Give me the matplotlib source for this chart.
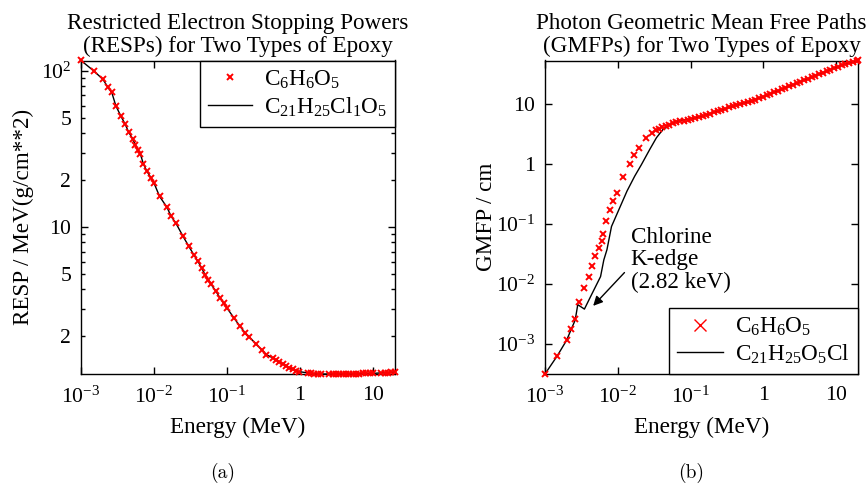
import matplotlib
matplotlib.use("Agg")
import matplotlib.pyplot as plt
from matplotlib.ticker import FixedLocator

# ---- panel (a): restricted electron stopping powers ----
resp_energy = [1.0e-3, 1.51e-3, 2.0e-3, 2.33e-3, 2.64e-3, 3.0e-3, 3.52e-3, 4.03e-3,
               4.48e-3, 5.08e-3, 5.53e-3, 6.0e-3, 6.53e-3, 7.13e-3, 8.0e-3, 9.08e-3,
               1.0e-2, 1.19e-2, 1.51e-2, 1.71e-2, 2.0e-2, 2.5e-2, 3.0e-2, 3.5e-2,
               4.0e-2, 4.5e-2, 5.0e-2, 5.5e-2, 6.07e-2, 7.0e-2, 8.0e-2, 9.0e-2,
               0.1, 0.125, 0.15, 0.177, 0.203, 0.253, 0.3, 0.347,
               0.42, 0.466, 0.518, 0.577, 0.64, 0.71, 0.79, 0.88, 0.975,
               1.27, 1.41, 1.57, 1.75, 1.94,
               2.52, 2.81, 3.12, 3.46, 3.85, 4.28, 4.75, 5.29, 5.87, 6.52, 7.26,
               8.06, 8.95, 9.97, 13.0, 14.4, 16.0, 17.8, 19.8]
resp_c6 = [117, 100, 88.5, 79, 73, 60, 51.5, 45.7,
           40.8, 37, 33.9, 31.2, 29.3, 25.6, 22.8, 20.8,
           19.2, 15.8, 13.4, 11.8, 10.6, 8.75, 7.55, 6.68,
           6.05, 5.48, 4.97, 4.62, 4.31, 3.91, 3.54, 3.27,
           3.04, 2.62, 2.33, 2.11, 1.98, 1.78, 1.64, 1.53,
           1.46, 1.42, 1.38, 1.34, 1.3, 1.26, 1.23, 1.21, 1.19,
           1.17, 1.16, 1.155, 1.15, 1.15,
           1.15, 1.15, 1.15, 1.15, 1.15, 1.15, 1.15, 1.15, 1.15, 1.155, 1.16,
           1.16, 1.16, 1.16, 1.17, 1.17, 1.175, 1.18, 1.185]
# the chlorinated epoxy overlaps the marker series everywhere
resp_c21 = [117, 100, 88.5, 79, 73, 60, 51.5, 45.7,
            40.8, 37, 33.9, 31.2, 29.3, 25.6, 22.8, 20.8,
            19.2, 15.8, 13.4, 11.8, 10.6, 8.75, 7.55, 6.68,
            6.05, 5.48, 4.97, 4.62, 4.31, 3.91, 3.54, 3.27,
            3.04, 2.62, 2.33, 2.11, 1.98, 1.78, 1.64, 1.53,
            1.46, 1.42, 1.38, 1.34, 1.3, 1.26, 1.23, 1.21, 1.19,
            1.17, 1.16, 1.155, 1.15, 1.15,
            1.15, 1.15, 1.15, 1.15, 1.15, 1.15, 1.15, 1.15, 1.15, 1.155, 1.16,
            1.16, 1.16, 1.16, 1.17, 1.17, 1.175, 1.18, 1.185]

# ---- panel (b): photon geometric mean free paths ----
gmfp_pts_energy = [1.0e-3, 1.47e-3, 1.98e-3, 2.27e-3, 2.6e-3, 2.95e-3, 3.39e-3, 3.97e-3,
                   4.4e-3, 4.84e-3, 5.45e-3, 5.98e-3, 6.3e-3, 6.85e-3, 7.76e-3, 8.73e-3,
                   9.8e-3, 1.18e-2, 1.46e-2, 1.67e-2, 1.94e-2, 2.42e-2, 2.92e-2, 3.32e-2,
                   3.68e-2, 4.09e-2, 4.55e-2,
                   0.05, 0.057, 0.064, 0.072, 0.081, 0.091, 0.103, 0.116, 0.13, 0.147,
                   0.165, 0.186, 0.21, 0.236, 0.266, 0.3, 0.337, 0.38, 0.428, 0.482,
                   0.543, 0.611, 0.688, 0.775, 0.873, 0.983, 1.11, 1.25, 1.4, 1.58,
                   1.78, 2.0, 2.26, 2.54, 2.86, 3.22, 3.63, 4.09, 4.6, 5.18,
                   5.84, 6.57, 7.4, 8.34, 9.39, 10.6, 11.9, 13.4, 15.1, 17.0, 19.2, 20.0]
gmfp_c6 = [3.16e-4, 6.3e-4, 1.17e-3, 1.76e-3, 2.58e-3, 5.0e-3, 8.5e-3, 1.32e-2,
           2.0e-2, 2.85e-2, 3.94e-2, 5.07e-2, 6.8e-2, 0.109, 0.167, 0.235,
           0.325, 0.6, 0.99, 1.41, 1.85, 2.64, 3.25, 3.59,
           3.83, 4.09, 4.3,
           4.45, 4.7, 4.9, 5.05, 5.2, 5.35, 5.55, 5.75, 5.95, 6.2,
           6.5, 6.8, 7.15, 7.5, 7.85, 8.2, 8.6, 9.0, 9.4, 9.75,
           10.2, 10.6, 11.1, 11.6, 12.3, 13.0, 13.8, 14.6, 15.4, 16.3,
           17.2, 18.2, 19.3, 20.5, 21.7, 23.0, 24.4, 25.9, 27.4, 29.0,
           30.7, 32.6, 34.6, 36.7, 39.0, 41.3, 43.4, 45.5, 47.6, 49.6, 51.5, 52.0]

gmfp_line_energy = [1.0e-3, 1.47e-3, 1.98e-3, 2.27e-3, 2.6e-3, 2.82e-3, 3.48e-3, 4.22e-3,
                    5.8e-3, 6.43e-3, 7.1e-3, 8.2e-3, 1.06e-2, 1.34e-2, 1.71e-2, 2.11e-2,
                    2.74e-2, 3.4e-2, 4.17e-2, 5.7e-2, 7.0e-2, 0.103, 0.147, 0.21,
                    0.3, 0.482, 0.688, 0.983, 1.4, 2.0, 2.86, 4.09, 5.84, 8.34,
                    11.9, 15.1, 20.0]
gmfp_c21 = [3.16e-4, 6.3e-4, 1.15e-3, 1.7e-3, 2.5e-3, 4.5e-3, 3.8e-3, 6.1e-3,
            1.32e-2, 2.5e-2, 3.7e-2, 9.0e-2, 0.183, 0.35, 0.62, 0.96,
            1.71, 2.7, 3.69, 4.76, 5.2, 5.55, 6.2, 7.15,
            8.2, 9.75, 11.1, 13.0, 15.4, 18.2, 21.7, 25.9, 30.7, 36.7,
            43.4, 47.6, 52.0]

plt.rcParams['font.family'] = ['Liberation Serif', 'DejaVu Serif']
plt.rcParams['mathtext.fontset'] = 'custom'
plt.rcParams['mathtext.rm'] = 'Liberation Serif'
plt.rcParams['mathtext.it'] = 'Liberation Serif:italic'
plt.rcParams['mathtext.bf'] = 'Liberation Serif:bold'

FS = 16.7
TFS = 15.6
fig = plt.figure(figsize=(8.68, 4.87), dpi=100)
ax1 = fig.add_axes([81 / 868, 1 - 374 / 487, 314 / 868, 313.5 / 487])
ax2 = fig.add_axes([545 / 868, 1 - 374 / 487, 313 / 868, 313.5 / 487])

xticks = [1e-3, 1e-2, 1e-1, 1, 10]
xlabels = [r'$\mathregular{10^{-3}}$', r'$\mathregular{10^{-2}}$',
           r'$\mathregular{10^{-1}}$', '1', '10']

# (a)
ax1.plot(resp_energy, resp_c21, color='black', lw=1.0, zorder=2,
         label=r'C$_{21}$H$_{25}$Cl$_1$O$_5$')
ax1.plot(resp_energy, resp_c6, ls='none', marker='x', ms=3.8, mew=1.4,
         color='red', zorder=3, clip_on=False, label=r'C$_6$H$_6$O$_5$')
ax1.set_xscale('log')
ax1.set_yscale('log')
ax1.set_xlim(1e-3, 20)
ax1.set_ylim(1.15, 117)
ax1.yaxis.set_major_locator(FixedLocator([10, 100]))
ax1.set_yticklabels(['10', r'$\mathregular{10^{2}}$'])
minor_y = [m * 10 ** k for k in (0, 1) for m in range(2, 10)]
ax1.yaxis.set_minor_locator(FixedLocator(minor_y))
ax1.yaxis.set_minor_formatter(plt.FuncFormatter(
    lambda v, p: str(int(round(v / 10 ** int(v >= 10)))) if round(v / 10 ** int(v >= 10)) in (2, 5) else ''))
ax1.set_title('Restricted Electron Stopping Powers\n(RESPs) for Two Types of Epoxy',
              fontsize=FS, pad=6, linespacing=1.12)
ax1.set_ylabel('RESP / MeV(g/cm**2)', fontsize=FS)
ax1.yaxis.set_label_coords(-0.185, 0.5)
h, l = ax1.get_legend_handles_labels()
leg1 = ax1.legend(h[::-1], l[::-1], loc='upper right', bbox_to_anchor=(1.0, 1.0),
                  borderaxespad=0, fancybox=False, edgecolor='black', framealpha=1,
                  fontsize=FS, handlelength=1.9, handletextpad=0.5,
                  labelspacing=0.2, borderpad=0.35)
leg1.get_frame().set_linewidth(1.0)

# (b)
ax2.plot(gmfp_line_energy, gmfp_c21, color='black', lw=1.0, zorder=2,
         label=r'C$_{21}$H$_{25}$O$_5$Cl')
ax2.plot(gmfp_pts_energy, gmfp_c6, ls='none', marker='x', ms=3.8, mew=1.4,
         color='red', zorder=3, clip_on=False, label=r'C$_6$H$_6$O$_5$')
ax2.set_xscale('log')
ax2.set_yscale('log')
ax2.set_xlim(1e-3, 20)
ax2.set_ylim(3.16e-4, 52)
ax2.yaxis.set_major_locator(FixedLocator([1e-3, 1e-2, 1e-1, 1, 10]))
ax2.set_yticklabels([r'$\mathregular{10^{-3}}$', r'$\mathregular{10^{-2}}$',
                     r'$\mathregular{10^{-1}}$', '1', '10'])
ax2.yaxis.set_minor_locator(FixedLocator([]))
ax2.set_title('Photon Geometric Mean Free Paths\n(GMFPs) for Two Types of Epoxy',
              fontsize=FS, pad=6, linespacing=1.12)
ax2.set_ylabel('GMFP / cm', fontsize=FS)
ax2.yaxis.set_label_coords(-0.188, 0.5)
ax2.annotate('', xy=(4.59e-3, 4.3e-3), xytext=(1.236e-2, 1.54e-2),
             arrowprops=dict(arrowstyle='-|>', color='black', lw=1.0,
                             mutation_scale=14, shrinkA=0, shrinkB=0))
ax2.text(1.51e-2, 2.5e-2, 'Chlorine\nK-edge\n(2.82 keV)', fontsize=FS,
         ha='left', va='center', linespacing=1.1)
h, l = ax2.get_legend_handles_labels()
leg2 = ax2.legend(h[::-1], l[::-1], loc='lower right', bbox_to_anchor=(1.0, 0.0),
                  borderaxespad=0, fancybox=False, edgecolor='black', framealpha=1,
                  fontsize=FS, handlelength=2.0, handletextpad=0.5,
                  labelspacing=0.2, borderpad=0.35)
leg2.get_frame().set_linewidth(1.0)
leg2.legend_handles[0].set_markersize(9)
leg2.legend_handles[0].set_markeredgewidth(1.0)

for ax in (ax1, ax2):
    ax.set_xticks(xticks)
    ax.set_xticklabels(xlabels)
    ax.xaxis.set_minor_locator(FixedLocator([]))
    ax.set_xlabel('Energy (MeV)', fontsize=FS)
    ax.xaxis.set_label_coords(0.5, -0.17)
    ax.xaxis.label.set_va('center')
    ax.yaxis.label.set_va('center')
    ax.tick_params(which='both', direction='in', top=True, right=True,
                   labelsize=TFS, width=1.0)
    ax.tick_params(which='major', length=5, pad=9)
    ax.tick_params(which='minor', length=3, pad=9)
    ax.tick_params(axis='y', which='both', pad=7)
    for s in ax.spines.values():
        s.set_linewidth(1.0)

fig.text(222.7 / 868, 1 - 473 / 487, '(a)', family='cmr10', fontsize=14,
         ha='center', va='center')
fig.text(690.7 / 868, 1 - 473 / 487, '(b)', family='cmr10', fontsize=14,
         ha='center', va='center')

fig.savefig('out.png', dpi=100)
